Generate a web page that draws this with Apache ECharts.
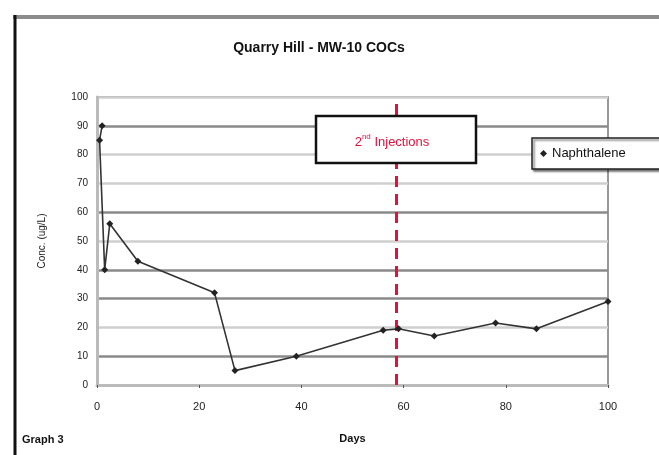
<!DOCTYPE html>
<html>
<head>
<meta charset="utf-8">
<script src="https://cdn.jsdelivr.net/npm/echarts@6/dist/echarts.min.js"></script>
<style>
html,body{margin:0;padding:0;background:#fff;}
#chart{width:659px;height:455px;}
</style>
</head>
<body>
<div id="chart"></div>
<script>
// ---- data ----
const days = [1, 0.5, 1.5, 2.5, 8, 23, 27, 39, 56, 59, 66, 78, 86, 100];
const naphthalene = [90, 85, 40, 56, 43, 32, 5, 10, 19, 19.5, 17, 21.5, 19.5, 29];
const seriesName = 'Naphthalene';
const injectionDay = 58.5;
const xTicks = [0, 20, 40, 60, 80, 100];
const yTicks = [0, 10, 20, 30, 40, 50, 60, 70, 80, 90, 100];
const titleText = 'Quarry Hill - MW-10 COCs';
const injectionLabel = ['2', 'nd', ' Injections'];

const chart = echarts.init(document.getElementById('chart'), null, {renderer: 'canvas'});
const light = '#cfcfcf', dark = '#8a8a8a';
const option = {
  backgroundColor: '#fff',
  animation: false,
  title: {
    text: titleText,
    left: 314, top: 36, textAlign: 'center',
    textStyle: {fontFamily: 'Liberation Sans, Arial', fontSize: 14, fontWeight: 'bold', color: '#111'}
  },
  legend: {
    data: [{name: seriesName, icon: 'diamond'}],
    left: 532, top: 138,
    itemWidth: 7, itemHeight: 7, itemGap: 5,
    padding: [9, 40, 9, 8],
    backgroundColor: '#fff',
    borderColor: '#222', borderWidth: 1.5,
    shadowColor: 'rgba(0,0,0,0.5)', shadowOffsetX: 2, shadowOffsetY: 2, shadowBlur: 2,
    textStyle: {fontFamily: 'Liberation Sans, Arial', fontSize: 13, color: '#111'}
  },
  grid: {left: 97, right: 51, top: 97, bottom: 70, show: true, borderColor: '#777', borderWidth: 1.5, backgroundColor: '#fff'},
  xAxis: {
    type: 'value', min: 0, max: 100, interval: 20,
    name: 'Days', nameLocation: 'middle', nameGap: 48,
    nameTextStyle: {fontFamily: 'Liberation Sans, Arial', fontSize: 11, fontWeight: 'bold', color: '#111'},
    axisLine: {show: true, lineStyle: {color: '#bbb', width: 3}},
    axisTick: {show: true, length: 3, lineStyle: {color: '#555'}},
    axisLabel: {fontFamily: 'Liberation Sans, Arial', fontSize: 11, color: '#222', margin: 16,
      formatter: v => xTicks.includes(v) ? String(v) : ''},
    splitLine: {show: false}
  },
  yAxis: {
    type: 'value', min: 0, max: 100, interval: 10,
    name: 'Conc. (ug/L)', nameLocation: 'middle', nameGap: 50,
    nameTextStyle: {fontFamily: 'Liberation Sans, Arial', fontSize: 10, color: '#222'},
    axisLine: {show: true, lineStyle: {color: '#bbb', width: 3}},
    axisTick: {show: false},
    axisLabel: {fontFamily: 'Liberation Sans, Arial', fontSize: 10, color: '#222', margin: 9,
      formatter: v => yTicks.includes(v) ? String(v) : ''},
    splitLine: {show: true, lineStyle: {width: 2.5,
      color: [light, dark, light, dark, dark, light, dark, light, light, dark, light]}}
  },
  series: [{
    name: seriesName,
    type: 'line',
    data: days.map((d, i) => [d, naphthalene[i]]),
    symbol: 'diamond', symbolSize: 7,
    itemStyle: {color: '#222'},
    lineStyle: {color: '#333', width: 1.6},
    z: 3,
    markLine: {
      silent: true, symbol: 'none',
      label: {show: false},
      lineStyle: {color: '#e3103c', width: 3, type: [11, 7]},
      data: [{xAxis: injectionDay}],
      z: 2
    }
  }],
  graphic: [
    // outer chart frame
    {type: 'line', shape: {x1: 13, y1: 17, x2: 659, y2: 17}, style: {stroke: '#8c8c8c', lineWidth: 4}, z: 10},
    {type: 'line', shape: {x1: 15, y1: 15, x2: 15, y2: 455}, style: {stroke: '#111', lineWidth: 3}, z: 10},
    // annotation box
    {type: 'rect', shape: {x: 316, y: 116, width: 160, height: 47},
      style: {fill: '#fff', stroke: '#111', lineWidth: 2.5}, z: 20},
    {type: 'text', x: 392, y: 141, z: 21,
      style: {
        text: '{a|' + injectionLabel[0] + '}{s|' + injectionLabel[1] + '}{a|' + injectionLabel[2] + '}',
        align: 'center', verticalAlign: 'middle',
        rich: {
          a: {fontFamily: 'Liberation Sans, Arial', fontSize: 13, fill: '#e3103c', color: '#e3103c', verticalAlign: 'bottom', lineHeight: 16},
          s: {fontFamily: 'Liberation Sans, Arial', fontSize: 8, fill: '#e3103c', color: '#e3103c', verticalAlign: 'top', lineHeight: 16, padding: [0, 0, 7, 0]}
        }
      }},
    // footer label
    {type: 'text', left: 22, top: 434, z: 10,
      style: {text: 'Graph 3', fontFamily: 'Liberation Sans, Arial', fontSize: 11, fontWeight: 'bold', fill: '#111'}}
  ]
};
chart.setOption(option);
</script>
</body>
</html>
